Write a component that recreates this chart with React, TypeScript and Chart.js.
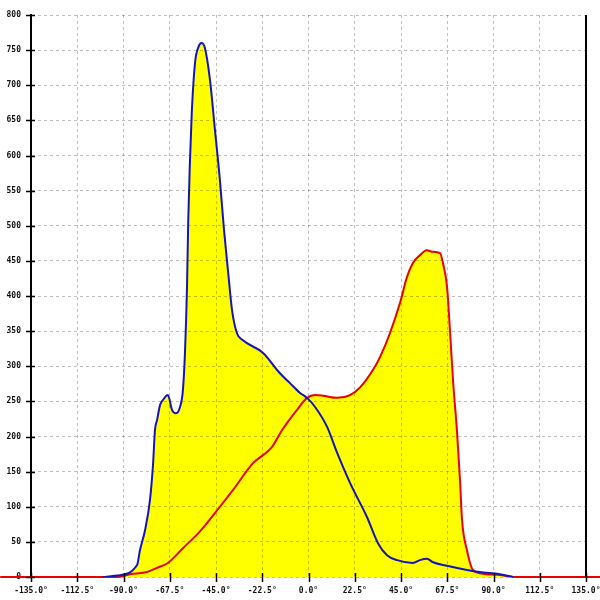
import React, { useEffect, useRef } from 'react';
import { Chart, registerables } from 'chart.js';

Chart.register(...registerables);

const blueAngles = [-100, -93.2, -83.4, -82.0, -79.5, -77.1, -75.6, -74.7, -73.7, -72.2, -70.8, -68.4, -66.4, -64.5, -62.5, -61.1, -60.1, -59.1, -58.5, -57.7, -56.8, -55.2, -53.6, -52.0, -50.4, -47.9, -45.5, -43.1, -41.1, -39.2, -37.2, -34.8, -31.9, -22.1, -13.9, -9.0, -4.1, -0.7, 3.2, 9.0, 13.9, 20.2, 28.5, 33.8, 38.2, 43.1, 50.8, 54.2, 57.6, 60.6, 67.4, 77.1, 83.4, 93.2, 99.5];
const blueValues = [0, 2, 17, 38, 67, 110, 162, 209, 223, 245, 252, 259, 238, 233, 242, 266, 319, 413, 508, 589, 660, 732, 754, 760, 753, 707, 636, 565, 494, 437, 380, 347, 337, 319, 290, 276, 262, 255, 242, 214, 177, 134, 85, 48, 31, 24, 20, 24, 26, 21, 16, 10, 7, 4, 0];

const redAngles = [-150, -93.2, -86.8, -78.6, -73.7, -68.4, -61.1, -52.8, -43.1, -36.7, -27.0, -17.8, -12.9, -5.6, -0.7, 3.2, 7.1, 13.9, 20.2, 25.1, 31.4, 34.8, 39.6, 44.5, 47.9, 50.8, 54.2, 57.6, 60.1, 64.0, 65.4, 67.4, 68.8, 70.3, 72.2, 73.7, 74.7, 77.1, 80.0, 86.8, 93.2, 99.5, 150];
const redValues = [0, 0, 4, 7, 13, 20, 41, 65, 100, 124, 162, 185, 209, 238, 255, 259, 258, 255, 259, 270, 295, 313, 347, 390, 427, 447, 458, 465, 463, 461, 447, 413, 352, 280, 209, 138, 81, 38, 10, 4, 3, 0, 0];

const xMin = -135;
const xMax = 135;
const xStep = 22.5;
const yMin = 0;
const yMax = 800;
const yStep = 50;

const FONT = { family: "'DejaVu Sans Mono', monospace", size: 8, weight: 'bold' as const };

export default function App() {
  const ref = useRef<HTMLCanvasElement>(null);

  useEffect(() => {
    document.body.style.margin = '0';
    if (!ref.current) return;

    const deco = {
      id: 'deco',
      afterDraw(chart: any) {
        const { ctx, chartArea, scales } = chart;
        ctx.save();
        ctx.strokeStyle = '#000';
        ctx.lineWidth = 2;
        ctx.beginPath();
        ctx.moveTo(chartArea.right, chartArea.top);
        ctx.lineTo(chartArea.right, chartArea.bottom);
        ctx.stroke();
        ctx.lineWidth = 1.5;
        ctx.beginPath();
        for (const t of scales.y.ticks) {
          const py = Math.round(scales.y.getPixelForValue(t.value)) + 0.5;
          ctx.moveTo(chartArea.left - 5, py);
          ctx.lineTo(chartArea.left + 4, py);
        }
        for (const t of scales.x.ticks) {
          const px = Math.round(scales.x.getPixelForValue(t.value)) + 0.5;
          ctx.moveTo(px, chartArea.bottom - 4);
          ctx.lineTo(px, chartArea.bottom + 5);
        }
        ctx.stroke();
        ctx.restore();
      },
    };

    const chart = new Chart(ref.current, {
      type: 'line',
      data: {
        datasets: [
          {
            label: 'blue',
            data: blueAngles.map((a, i) => ({ x: a, y: blueValues[i] })),
            borderColor: 'rgb(20,20,190)',
            borderWidth: 2,
            backgroundColor: '#ffff00',
            fill: 'origin',
            pointRadius: 0,
            cubicInterpolationMode: 'monotone',
          },
          {
            label: 'red',
            data: redAngles.map((a, i) => ({ x: a, y: redValues[i] })),
            borderColor: 'rgb(235,0,0)',
            borderWidth: 2,
            backgroundColor: '#ffff00',
            fill: 'origin',
            pointRadius: 0,
            cubicInterpolationMode: 'monotone',
            clip: false as any,
          },
        ],
      },
      options: {
        responsive: false,
        animation: false,
        layout: { padding: { left: 0, top: 15, right: 14, bottom: 0 } },
        plugins: {
          legend: { display: false },
          tooltip: { enabled: false },
          filler: { drawTime: 'beforeDraw' } as any,
        },
        scales: {
          x: {
            type: 'linear',
            min: xMin,
            max: xMax,
            grid: { color: 'rgba(0,0,0,0.25)', lineWidth: 1, drawTicks: false },
            border: { display: false, dash: [3, 3] },
            ticks: {
              stepSize: xStep,
              autoSkip: false,
              maxRotation: 0,
              padding: 9,
              color: '#111',
              font: FONT,
              callback: (v: any) => Number(v).toFixed(1) + '°',
            },
            afterFit: (s: any) => {
              s.height = 23;
              s.paddingLeft = 0;
              s.paddingRight = 0;
            },
          },
          y: {
            type: 'linear',
            min: yMin,
            max: yMax,
            grid: { color: 'rgba(0,0,0,0.25)', lineWidth: 1, drawTicks: false },
            border: { display: true, color: '#000', width: 2, dash: [3, 3] },
            ticks: {
              stepSize: yStep,
              padding: 10,
              color: '#111',
              font: FONT,
            },
            afterFit: (s: any) => {
              s.width = 31;
              s.paddingTop = 0;
              s.paddingBottom = 0;
            },
          },
        },
      },
      plugins: [deco],
    });

    return () => chart.destroy();
  }, []);

  return <canvas ref={ref} width={600} height={600} style={{ display: 'block' }} />;
}
